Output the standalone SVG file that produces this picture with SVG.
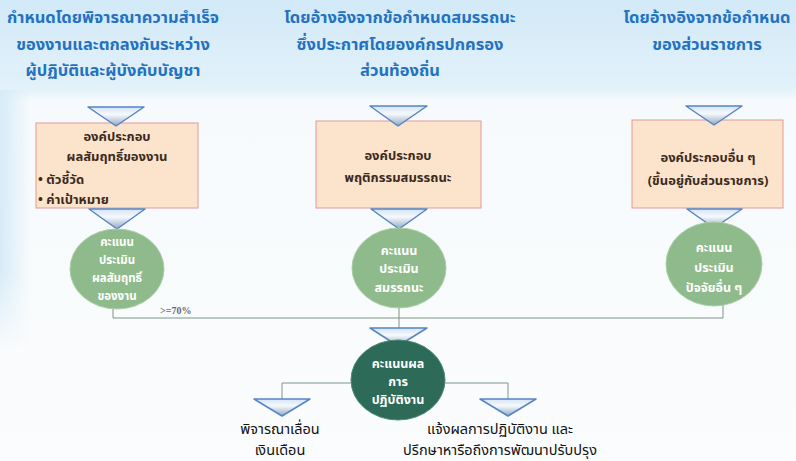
<svg xmlns="http://www.w3.org/2000/svg" width="796" height="461" viewBox="0 0 796 461">
<style>
.title{font-family:"Noto Sans Thai","Noto Sans","DejaVu Sans",sans-serif;font-size:16.5px;font-weight:bold;fill:#2372c2;text-anchor:middle}
.box{fill:#fbe3cc;stroke:#e29a9a;stroke-width:1}
.btxt{font-family:"Noto Sans Thai","Noto Sans","DejaVu Sans",sans-serif;font-size:13px;font-weight:bold;fill:#3b2a1c;text-anchor:middle}
.bl{text-anchor:start}
.tri{fill:url(#triG);stroke:#5585c4;stroke-width:1.5;stroke-linejoin:round}
.circ{fill:#8fbb8c;stroke:#a9cfa6;stroke-width:1}
.dark{fill:#2d6a58;stroke:#4a8a76;stroke-width:1}
.ctxt{font-family:"Noto Sans Thai","Noto Sans","DejaVu Sans",sans-serif;font-size:12.5px;font-weight:bold;fill:#ffffff;text-anchor:middle}
.small{font-size:11.5px}
.out{font-family:"Noto Sans Thai","Noto Sans","DejaVu Sans",sans-serif;font-size:14.5px;fill:#111111;text-anchor:middle}
.conn{fill:none;stroke:#7f9486;stroke-width:1}
.lbl{font-family:"Liberation Serif",serif;font-size:10px;font-weight:bold;fill:#6b6b6b}
</style>
<defs>
<linearGradient id="bgG" x1="0" y1="0" x2="0" y2="1">
<stop offset="0" stop-color="#d2e9f7"/>
<stop offset="0.19" stop-color="#e2f1fa"/>
<stop offset="0.22" stop-color="#f6fafc"/>
<stop offset="1" stop-color="#fbfcfd"/>
</linearGradient>
<linearGradient id="leftG" x1="0" y1="0" x2="1" y2="0">
<stop offset="0" stop-color="#d6ebf7"/>
<stop offset="1" stop-color="#d6ebf7" stop-opacity="0"/>
</linearGradient>
<linearGradient id="leftV" x1="0" y1="0" x2="0" y2="1">
<stop offset="0" stop-color="#ffffff"/>
<stop offset="0.7" stop-color="#ffffff"/>
<stop offset="1" stop-color="#000000"/>
</linearGradient>
<mask id="leftM"><rect x="0" y="90" width="30" height="260" fill="url(#leftV)"/></mask>
<linearGradient id="triG" x1="0" y1="0" x2="0" y2="1">
<stop offset="0" stop-color="#d3e4f6"/>
<stop offset="0.4" stop-color="#f6f9fc"/>
<stop offset="1" stop-color="#8fa8c2"/>
</linearGradient>
</defs>
<rect x="0" y="0" width="796" height="461" fill="url(#bgG)"/>
<rect x="0" y="90" width="30" height="260" fill="url(#leftG)" mask="url(#leftM)"/>

<g id="titles">
<text class="title" x="113" y="23">กำหนดโดยพิจารณาความสำเร็จ</text>
<text class="title" x="113" y="50">ของงานและตกลงกันระหว่าง</text>
<text class="title" x="113" y="76">ผู้ปฏิบัติและผู้บังคับบัญชา</text>
<text class="title" x="400" y="23">โดยอ้างอิงจากข้อกำหนดสมรรถนะ</text>
<text class="title" x="400" y="50">ซึ่งประกาศโดยองค์กรปกครอง</text>
<text class="title" x="400" y="76">ส่วนท้องถิ่น</text>
<text class="title" x="707" y="23">โดยอ้างอิงจากข้อกำหนด</text>
<text class="title" x="707" y="50">ของส่วนราชการ</text>
</g>

<g id="connectors">
<path class="conn" d="M113,309 V318 H723 V305"/>
<path class="conn" d="M399,308 V328"/>
<path class="conn" d="M353,383 H282 V399"/>
<path class="conn" d="M443,383 H508 V399"/>
<text class="lbl" x="160" y="314">&gt;=70%</text>
</g>

<g id="box1">
<rect class="box" x="36" y="123" width="162" height="85"/>
<polygon class="tri" points="88,107 144,107 116,126"/>
<text class="btxt" x="117" y="141">องค์ประกอบ</text>
<text class="btxt" x="117" y="161">ผลสัมฤทธิ์ของงาน</text>
<text class="btxt bl" x="38" y="184">•  ตัวชี้วัด</text>
<text class="btxt bl" x="38" y="204">•  ค่าเป้าหมาย</text>
<polygon class="tri" points="89,209 145,209 117,229"/>
</g>

<g id="box2">
<rect class="box" x="316" y="121" width="165" height="87"/>
<polygon class="tri" points="370,106 427,106 398,126"/>
<text class="btxt" x="398" y="160">องค์ประกอบ</text>
<text class="btxt" x="398" y="182">พฤติกรรมสมรรถนะ</text>
<polygon class="tri" points="371,209 427,209 399,229"/>
</g>

<g id="box3">
<rect class="box" x="632" y="120" width="151" height="88"/>
<polygon class="tri" points="686,106 742,106 714,125"/>
<text class="btxt" x="708" y="162">องค์ประกอบอื่น ๆ</text>
<text class="btxt" x="708" y="185">(ขึ้นอยู่กับส่วนราชการ)</text>
<polygon class="tri" points="687,209 742,209 714,228"/>
</g>

<g id="score1">
<ellipse class="circ" cx="117" cy="269" rx="47" ry="40"/>
<text class="ctxt small" x="117" y="246">คะแนน</text>
<text class="ctxt small" x="117" y="264">ประเมิน</text>
<text class="ctxt small" x="117" y="282">ผลสัมฤทธิ์</text>
<text class="ctxt small" x="117" y="300">ของงาน</text>
</g>

<g id="score2">
<ellipse class="circ" cx="399" cy="268" rx="47" ry="40"/>
<text class="ctxt" x="399" y="255">คะแนน</text>
<text class="ctxt" x="399" y="273">ประเมิน</text>
<text class="ctxt" x="399" y="292">สมรรถนะ</text>
</g>

<g id="score3">
<ellipse class="circ" cx="714" cy="264" rx="48" ry="42"/>
<text class="ctxt" x="714" y="252">คะแนน</text>
<text class="ctxt" x="714" y="272">ประเมิน</text>
<text class="ctxt" x="714" y="292">ปัจจัยอื่น ๆ</text>
</g>

<g id="total">
<polygon class="tri" points="370,328 427,328 398,346"/>
<ellipse class="dark" cx="398" cy="380" rx="47" ry="40"/>
<text class="ctxt" x="398" y="368">คะแนนผล</text>
<text class="ctxt" x="398" y="386">การ</text>
<text class="ctxt" x="398" y="404">ปฏิบัติงาน</text>
</g>

<g id="salary">
<polygon class="tri" points="254,399 310,399 282,416"/>
<text class="out" x="280" y="434">พิจารณาเลื่อน</text>
<text class="out" x="280" y="455">เงินเดือน</text>
</g>

<g id="feedback">
<polygon class="tri" points="480,399 536,399 508,416"/>
<text class="out" x="500" y="434">แจ้งผลการปฏิบัติงาน และ</text>
<text class="out" x="500" y="455">ปรึกษาหารือถึงการพัฒนาปรับปรุง</text>
</g>
</svg>
